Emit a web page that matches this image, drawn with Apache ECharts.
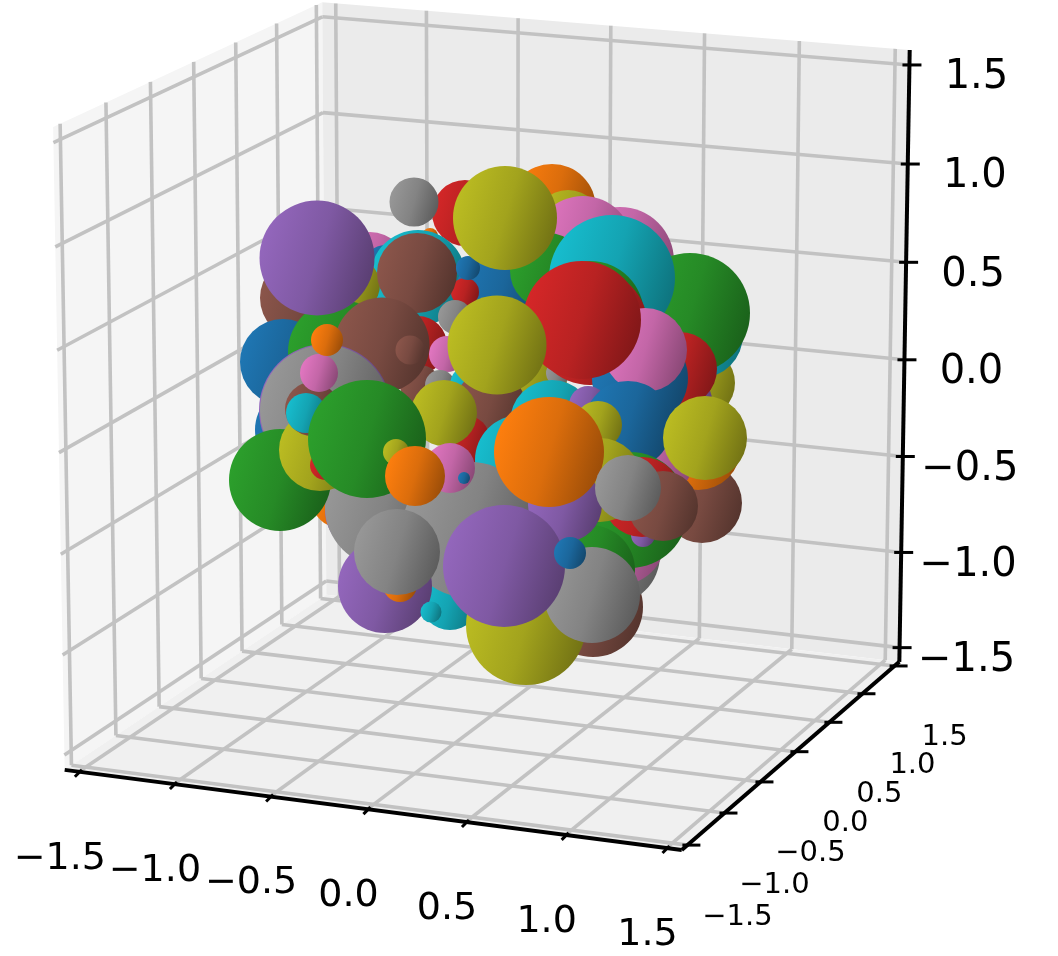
<!DOCTYPE html>
<html>
<head>
<meta charset="utf-8">
<style>
html,body{margin:0;padding:0;background:#fff;}
#chart{width:1058px;height:956px;}
</style>
<script src="https://cdn.jsdelivr.net/npm/echarts@6/dist/echarts.min.js"></script>
</head>
<body>
<div id="chart"></div>
<script>
// tick values and labels of the 3d box
const tickValues = [-1.5, -1.0, -0.5, 0.0, 0.5, 1.0, 1.5]
const tickLabels = ['\u22121.5', '\u22121.0', '\u22120.5', '0.0', '0.5', '1.0', '1.5']
const palette = ['#1f77b4', '#ff7f0e', '#2ca02c', '#d62728', '#9467bd', '#8c564b', '#e377c2', '#989898', '#bcbd22', '#17becf']

// spheres, back to front, in view plane units
const sphereU = [0.52, 1.20, 0.68, 0.83, -0.35, -0.86, 2.00, 2.00, 1.45, 1.90,
  -0.70, -1.30, -1.15, -0.82, -1.48, -1.98, 0.00, 0.48, 1.12, 0.90,
  0.25, 0.58, 0.90, 1.90, 1.80, 1.40, 1.45, 0.82, -0.35, -0.83, -0.32,
  -0.45, -0.82, -0.53, -2.17, -1.60, -1.83, -1.30, -1.60, -0.80, -0.60,
  -0.30, -1.18, -0.90, -0.10, 0.52, 0.88, 2.02, 1.98, 1.50,
  1.28, 0.98, -0.03, 0.05, 2.05, 0.93, 1.10, 1.20, 1.30, 1.43,
  1.42, 1.63, 0.90, -0.35, 0.20, -0.50, -1.60, -1.30, -1.15, 0.15, -0.30,
  1.00, 0.65, 0.49, 1.28, -0.56, -2.00, -1.75, -1.75, -2.20, -1.80,
  -1.75, -1.88, -1.94, -1.81, -1.73, -1.33, -1.04, -0.50, -0.36, -0.85,
  -1.15, -1.00, -1.03, -0.69, 0.26, 0.92, 0.04, 0.70]
const sphereV = [1.92, 1.39, 1.75, 1.54, 1.87, 1.98, 0.17, 0.65, 1.10, 0.87,
  1.64, 1.30, 1.35, 1.22, 1.15, 1.02, 1.05, 1.29, 1.22, 0.85,
  0.15, 0.27, 0.73, 0.00, 0.31, 0.22, 0.50, 0.80, 1.08, 1.27, 1.32,
  0.83, 0.55, 0.46, 0.38, 0.48, 1.42, 0.20, 0.15, 0.15, 0.15,
  0.15, 0.55, 0.50, -0.05, -0.22, -0.05, -1.03, -0.47, -0.55,
  -0.25, -0.25, 0.55, 1.82, -0.38, -2.07, -1.55, -1.40, -1.10, -1.35,
  -0.97, -1.06, -1.70, -0.40, -0.60, -2.00, -1.00, -1.10, -1.07, -1.15, -1.30,
  -0.80, -1.05, -0.52, -0.88, -0.13, -0.30, -0.10, -0.10, -0.80, -0.50,
  -0.65, -0.09, -0.13, 0.27, 0.60, -0.39, -0.52, -0.68, -0.78, -0.76,
  -1.86, -1.85, -1.52, -2.12, -2.25, -1.95, -1.66, -1.53]
const sphereR = [0.44, 0.54, 0.35, 0.50, 0.33, 0.245, 0.35, 0.43, 0.42, 0.60,
  0.08, 0.38, 0.20, 0.48, 0.28, 0.42, 0.45, 0.38, 0.63, 0.54,
  0.42, 0.12, 0.58, 0.22, 0.37, 0.48, 0.42, 0.59, 0.14, 0.40, 0.12,
  0.17, 0.29, 0.18, 0.43, 0.52, 0.575, 0.30, 0.15, 0.20, 0.15,
  0.20, 0.475, 0.145, 0.35, 0.42, 0.19, 0.40, 0.43, 0.45,
  0.44, 0.24, 0.495, 0.52, 0.42, 0.50, 0.50, 0.45, 0.58, 0.12,
  0.40, 0.35, 0.45, 0.25, 0.45, 0.30, 0.28, 0.45, 0.60, 0.50, 0.68,
  0.42, 0.37, 0.55, 0.33, 0.33, 0.45, 0.66, 0.65, 0.51, 0.41,
  0.15, 0.27, 0.20, 0.19, 0.16, 0.59, 0.13, 0.25, 0.06, 0.30,
  0.47, 0.17, 0.43, 0.105, 0.60, 0.48, 0.61, 0.16]
const sphereColor = [1, 6, 8, 6, 3, 7, 8, 9, 9, 2,
  1, 6, 0, 9, 8, 5, 0, 2, 9, 2,
  8, 7, 3, 4, 3, 0, 6, 3, 3, 5, 0,
  7, 3, 6, 0, 2, 4, 8, 0, 5, 7,
  9, 5, 5, 5, 9, 4, 5, 1, 6,
  0, 8, 8, 8, 8, 5, 7, 6, 2, 4,
  3, 5, 2, 3, 9, 9, 1, 4, 7, 7, 7,
  8, 4, 1, 7, 8, 0, 4, 7, 2, 8,
  3, 5, 9, 6, 1, 2, 8, 6, 0, 1,
  4, 1, 7, 9, 8, 7, 4, 0]

// camera of the 3d box, data limits are the ticks plus a small margin
const elev = 15 * Math.PI / 180
const azim = -68 * Math.PI / 180
const dist = 10
const lim = 1.575
const viewScale = 64.9
const viewShiftU = -0.07
const viewShiftV = -0.05

function project(x, y, z){
  const px = x / (2 * lim), py = y / (2 * lim), pz = z / (2 * lim)
  const ca = Math.cos(azim), sa = Math.sin(azim), ce = Math.cos(elev), se = Math.sin(elev)
  const w = px * ce * ca + py * ce * sa + pz * se
  const d = dist - w
  const a = px * (-sa) + py * ca
  const b = px * (-se * ca) + py * (-se * sa) + pz * ce
  return [viewShiftU + viewScale * a / d, viewShiftV + viewScale * b / d]
}

const panes = [
  {color: '#f5f5f5', pts: [[-lim, -lim, -lim], [-lim, lim, -lim], [-lim, lim, lim], [-lim, -lim, lim]]},
  {color: '#ebebeb', pts: [[-lim, lim, -lim], [lim, lim, -lim], [lim, lim, lim], [-lim, lim, lim]]},
  {color: '#f0f0f0', pts: [[-lim, -lim, -lim], [lim, -lim, -lim], [lim, lim, -lim], [-lim, lim, -lim]]}
].map(p => ({color: p.color, pts: p.pts.map(q => project(q[0], q[1], q[2]))}))

function seg(a, b){
  const p = project(a[0], a[1], a[2]), q = project(b[0], b[1], b[2])
  return [p[0], p[1], q[0], q[1]]
}

let gridSegs = []
tickValues.forEach(t => {
  // floor
  gridSegs.push(seg([t, -lim, -lim], [t, lim, -lim]))
  gridSegs.push(seg([-lim, t, -lim], [lim, t, -lim]))
  // left wall
  gridSegs.push(seg([-lim, t, -lim], [-lim, t, lim]))
  gridSegs.push(seg([-lim, -lim, t], [-lim, lim, t]))
  // back wall
  gridSegs.push(seg([t, lim, -lim], [t, lim, lim]))
  gridSegs.push(seg([-lim, lim, t], [lim, lim, t]))
})

const axisSegs = [
  seg([-lim, -lim, -lim], [lim, -lim, -lim]),
  seg([lim, -lim, -lim], [lim, lim, -lim]),
  seg([lim, lim, -lim], [lim, lim, lim])
]

// short tick marks, offsets are in view units
let tickSegs = []
let labelData = []
tickValues.forEach((t, i) => {
  const px = project(t, -lim, -lim), py = project(lim, t, -lim), pz = project(lim, lim, t)
  tickSegs.push([px[0] + 0.03, px[1] + 0.02, px[0] - 0.04, px[1] - 0.05])
  tickSegs.push([py[0] - 0.05, py[1], py[0] + 0.13, py[1]])
  tickSegs.push([pz[0] - 0.07, pz[1], pz[0] + 0.12, pz[1]])
  labelData.push([px[0] - 0.19, px[1] - 0.87, tickLabels[i], 38])
  labelData.push([py[0] + 0.50, py[1] - 0.72, tickLabels[i], 29])
  labelData.push([pz[0] + 0.67, pz[1] - 0.13, tickLabels[i], 40])
})

function segItem(color, width){
  return (params, api) => {
    const a = api.coord([api.value(0), api.value(1)])
    const b = api.coord([api.value(2), api.value(3)])
    return {
      type: 'line',
      shape: {x1: a[0], y1: a[1], x2: b[0], y2: b[1]},
      style: {stroke: color, lineWidth: width, fill: null}
    }
  }
}

function shade(hex, k){
  const n = parseInt(hex.slice(1), 16)
  const r = Math.round((n >> 16) * k), g = Math.round(((n >> 8) & 255) * k), b = Math.round((n & 255) * k)
  return 'rgb(' + r + ',' + g + ',' + b + ')'
}

const sphereData = sphereU.map((u, i) => [u, sphereV[i], sphereR[i], sphereColor[i]])

let myChart = echarts.init(document.getElementById('chart'), null, {renderer: 'canvas'})
let option = {
  animation: false,
  backgroundColor: '#fff',
  grid: {left: 0, right: 0, top: 0, bottom: 0},
  xAxis: {type: 'value', min: -5, max: 5.58, show: false},
  yAxis: {type: 'value', min: -5.56, max: 4, show: false},
  series: [
    {
      type: 'custom',
      silent: true,
      clip: false,
      data: panes.map((p, i) => [i]),
      renderItem: (params, api) => {
        const pane = panes[api.value(0)]
        return {
          type: 'polygon',
          shape: {points: pane.pts.map(q => api.coord(q))},
          style: {fill: pane.color}
        }
      }
    },
    {type: 'custom', silent: true, clip: false, data: gridSegs, renderItem: segItem('#c2c2c2', 3.6)},
    {type: 'custom', silent: true, clip: false, data: axisSegs, renderItem: segItem('#000', 4)},
    {type: 'custom', silent: true, clip: false, data: tickSegs, renderItem: segItem('#000', 3)},
    {
      type: 'custom',
      silent: true,
      clip: false,
      data: labelData,
      encode: {x: 0, y: 1},
      renderItem: (params, api) => {
        const c = api.coord([api.value(0), api.value(1)])
        return {
          type: 'text',
          x: c[0],
          y: c[1],
          style: {
            text: labelData[params.dataIndex][2],
            fontFamily: 'DejaVu Sans',
            fontSize: labelData[params.dataIndex][3],
            fill: '#000',
            align: 'center',
            verticalAlign: 'middle'
          }
        }
      }
    },
    {
      type: 'custom',
      silent: true,
      clip: false,
      data: sphereData,
      encode: {x: 0, y: 1},
      renderItem: (params, api) => {
        const c = api.coord([api.value(0), api.value(1)])
        const r = api.size([api.value(2), 0])[0]
        const base = palette[api.value(3)]
        return {
          type: 'circle',
          shape: {cx: c[0], cy: c[1], r: r},
          style: {
            fill: {
              type: 'linear', x: 0, y: 0.35, x2: 1, y2: 0.65,
              colorStops: [
                {offset: 0, color: shade(base, 1)},
                {offset: 0.5, color: shade(base, 0.86)},
                {offset: 1, color: shade(base, 0.6)}
              ]
            }
          }
        }
      }
    }
  ]
}
myChart.setOption(option)
</script>
</body>
</html>
